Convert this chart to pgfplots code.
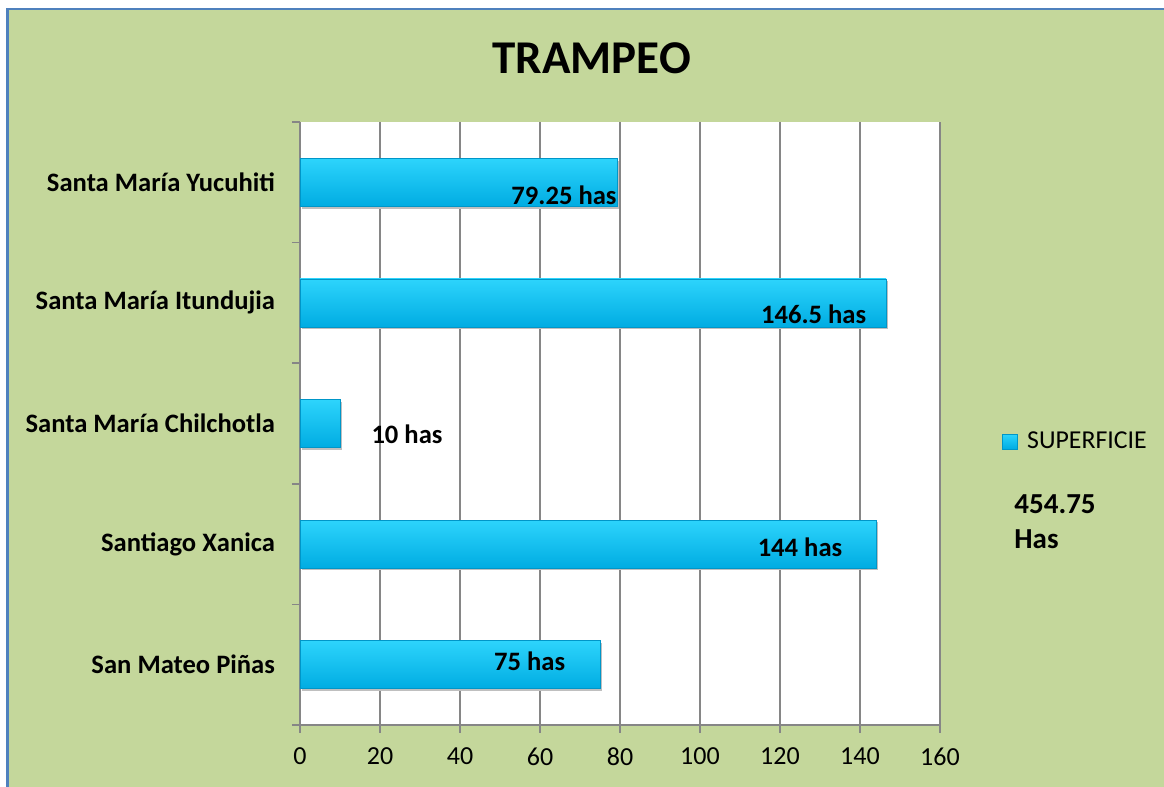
\documentclass[border=0pt]{standalone}
\usepackage{pgfplots}
\pgfplotsset{compat=1.18}
\usepackage{fontspec}
\setmainfont{Carlito}
\definecolor{bg}{RGB}{196,215,155}
\definecolor{frame}{RGB}{79,129,189}
\definecolor{barc}{RGB}{0,191,243}
\definecolor{barlight}{RGB}{45,212,252}
\definecolor{bardark}{RGB}{0,172,226}
\definecolor{baredge}{RGB}{0,150,200}
\definecolor{gridc}{RGB}{134,134,134}
\begin{document}
\begin{tikzpicture}
\useasboundingbox (0,0) rectangle (582pt,393.5pt);
\clip (0,0) rectangle (582pt,393.5pt);
\fill[white] (0,0) rectangle (582pt,393.5pt);
\filldraw[fill=bg, draw=frame, line width=1.2pt] (3.8pt,-10pt) rectangle (600pt,389pt);
\node[font=\fontsize{23.5}{27}\selectfont\bfseries, anchor=base, inner sep=0pt] at (295.9pt,356.5pt) {TRAMPEO};
\node[font=\fontsize{14.5}{17}\selectfont\bfseries, anchor=base west, inner sep=0pt] at (507pt,136.5pt) {454.75};
\node[font=\fontsize{14.5}{17}\selectfont\bfseries, anchor=base west, inner sep=0pt] at (507pt,119pt) {Has};
\begin{axis}[
  at={(150pt,31pt)}, anchor=south west,
  scale only axis, width=320pt, height=301.5pt,
  xbar, bar width=24pt, bar shift=0pt,
  xmin=0, xmax=160, ymin=-0.5, ymax=4.5,
  axis background/.style={fill=white},
  axis x line*=bottom, axis y line*=left,
  axis line style={gridc, line width=0.8pt},
  tick align=outside, major tick length=4pt,
  tick style={gridc, line width=0.8pt},
  xtick={0,20,...,160}, xmajorgrids,
  grid style={gridc, line width=0.8pt},
  ytick={-0.5,0.5,...,4.5}, yticklabels={},
  extra y ticks={0,1,2,3,4},
  extra y tick labels={San Mateo Piñas, Santiago Xanica, Santa María Chilchotla, Santa María Itundujia, Santa María Yucuhiti},
  extra y tick style={major tick length=0pt, tick style={draw=none}, yticklabel style={font=\fontsize{13.3}{15}\selectfont\bfseries, anchor=east, xshift=-9pt}},
  xticklabel style={font=\fontsize{13}{15}\selectfont, yshift=-4pt},
  /pgf/number format/assume math mode=true,
  legend style={at={(1.097,0.470)}, anchor=west, draw=none, fill=none, font=\fontsize{12.9}{15}\selectfont, inner sep=0pt},
  legend image code/.code={\fill[barc, draw=baredge] (0pt,-3.75pt) rectangle (7.5pt,3.75pt); \path (10pt,0pt);},
  clip=false,
  barstyle/.style={draw=baredge, line width=0.35pt, shading=axis, top color=barlight, middle color=barc, bottom color=bardark},
  shadowstyle/.style={fill=black!25, draw=none, xshift=1.2pt, yshift=-1.2pt, forget plot},
]
\addplot[shadowstyle] coordinates {(75,0)};
\addplot[shadowstyle] coordinates {(144,1)};
\addplot[shadowstyle] coordinates {(10,2)};
\addplot[shadowstyle] coordinates {(146.5,3)};
\addplot[shadowstyle] coordinates {(79.25,4)};
\addplot[barstyle] coordinates {(75,0)};
\addlegendentry{SUPERFICIE}
\addplot[barstyle, forget plot] coordinates {(144,1)};
\addplot[barstyle, forget plot] coordinates {(10,2)};
\addplot[barstyle, forget plot] coordinates {(146.5,3)};
\addplot[barstyle, forget plot] coordinates {(79.25,4)};
\begin{scope}[every node/.style={font=\fontsize{13.3}{15}\selectfont\bfseries, anchor=base, inner sep=0pt}]
\node at (axis cs:66,3.818) {79.25 has};
\node at (axis cs:128.4,2.826) {146.5 has};
\node at (axis cs:26.75,1.834) {10 has};
\node at (axis cs:125,0.9) {144 has};
\node at (axis cs:57.4,-0.046) {75 has};
\end{scope}
\end{axis}
\end{tikzpicture}
\end{document}
